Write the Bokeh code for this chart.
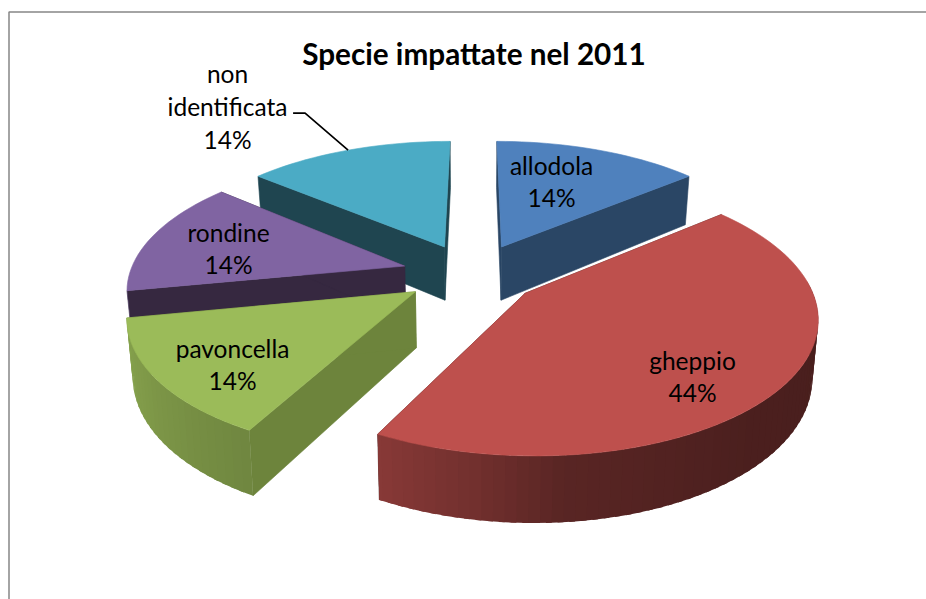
import math
from bokeh.plotting import figure
from bokeh.models import Range1d, ColumnDataSource
from bokeh.core.properties import value
from bokeh.embed import file_html
from bokeh.resources import INLINE

# ---- data ----
TITLE = "Specie impattate nel 2011"
species = ["allodola", "gheppio", "pavoncella", "rondine", "non\nidentificata"]
percent = [14, 44, 14, 14, 14]

# ---- style ----
top_colors = ["#4f81bd", "#be504d", "#9bbb59", "#8064a2", "#4babc5"]
face_colors = ["#2a4665", "#4a1e1c", "#6d843c", "#362840", "#1f4550"]
label_centres = [(551, 181), (692, 376), (232, 364), (228, 248), (227, 106)]
paint_order = [4, 0, 3, 2, 1]
apex_shift = [1, 0, -4, -6, -2]      # small sideways nudge of each slice's apex, px
end_trim = [0, -1.1, 0, 0, 0]        # small trim of each slice's closing edge, degrees

# ---- projection of the exploded 3D pie ----
CX, CY = 473.0, 273.0
RX, RY = 281.0, 130.0
PERSP = 0.158
EXPLODE = 0.233
DEPTH = 55.0
SHRINK = 0.983


def project(X, Y, bottom=False):
    d = 1 + PERSP * Y
    sx = RX * X / d
    sy = -RY * Y / d
    if bottom:
        return CX + sx * SHRINK, CY + sy + DEPTH / d
    return CX + sx, CY + sy


def shade(theta):
    pts = [(0, .38), (90, .38), (140, .40), (175, .47), (190, .60), (208, .72),
           (259, .88), (360, .88)]
    for (a0, f0), (a1, f1) in zip(pts, pts[1:]):
        if a0 <= theta <= a1:
            return f0 + (f1 - f0) * (theta - a0) / (a1 - a0)
    return .5


def scaled(col, f):
    r, g, b = (int(col[i:i + 2], 16) for i in (1, 3, 5))
    return "#%02x%02x%02x" % (int(r * f), int(g * f), int(b * f))


xs, ys, fills, strokes = [], [], [], []


def add(pts, col, stroke=0.6):
    xs.append([p[0] for p in pts])
    ys.append([p[1] for p in pts])
    fills.append(col)
    strokes.append(stroke)


total = sum(percent)
starts, a = [], 0.0
for v in percent:
    starts.append(a)
    a += 360.0 * v / total

for i in paint_order:
    a0 = starts[i]
    a1 = a0 + 360.0 * percent[i] / total
    mid = math.radians((a0 + a1) / 2)
    a1 += end_trim[i]
    ax, ay = EXPLODE * math.sin(mid), EXPLODE * math.cos(mid)
    top_apex = project(ax, ay)
    top_apex = (top_apex[0] + apex_shift[i], top_apex[1])
    low_apex = project(ax, ay, True)
    low_apex = (low_apex[0] + apex_shift[i], low_apex[1])

    def rim(theta):
        t = math.radians(theta)
        return ax + math.sin(t), ay + math.cos(t)

    # radial faces
    for edge in (a0, a1):
        ex, ey = rim(edge)
        add([top_apex, project(ex, ey), project(ex, ey, True), low_apex], face_colors[i])
    # outer wall, shaded strip by strip; strips overlap so no seams show
    lo, hi = max(a0, 85.0), min(a1, 260.0)
    t = lo
    while t < hi:
        t2 = min(t + 2.0, hi)
        t3 = min(t + 3.0, hi)
        p_, q_ = rim(t), rim(t3)
        add([project(*p_), project(*q_), project(*q_, True), project(*p_, True)],
            scaled(top_colors[i], shade((t + t2) / 2)), 0.0)
        t = t2
    # top surface
    n = max(2, int((a1 - a0) / 2))
    outline = [top_apex]
    outline += [project(*rim(a0 + (a1 - a0) * k / n)) for k in range(n + 1)]
    add(outline, top_colors[i])

p = figure(width=926, height=599, output_backend="svg", toolbar_location=None,
           x_range=Range1d(0, 926), y_range=Range1d(599, 0), min_border=0,
           background_fill_color="white", border_fill_color="white", outline_line_color=None)
p.axis.visible = False
p.grid.visible = False

# chart frame (its right and bottom edges are outside the picture)
p.line([8.5, 8.5, 930], [600, 11.5, 11.5], line_color="#868686", line_width=1.5)

p.patches(xs="xs", ys="ys", fill_color="fills", line_color="fills", line_width="strokes",
          source=ColumnDataSource(dict(xs=xs, ys=ys, fills=fills, strokes=strokes)))

# leader line of the last slice
i = 4
mid = math.radians(starts[i] + 180.0 * percent[i] / total)
ex, ey = project(EXPLODE * math.sin(mid) + math.sin(mid), EXPLODE * math.cos(mid) + math.cos(mid))
p.line([ex - 55, ex - 43, ex], [ey - 37, ey - 37, ey], line_color="black", line_width=1.7)

labels = [f"{s}\n{v}%" for s, v in zip(species, percent)]
p.text(x=[c[0] for c in label_centres], y=[c[1] for c in label_centres], text=labels,
       text_font=value("Lato"), text_font_size="24.5px", text_align="center",
       text_baseline="middle", text_color="black", text_line_height=1.125)
p.text(x=[473.5], y=[52.5], text=[TITLE], text_font=value("Lato"), text_font_size="29.7px",
       text_font_style="bold", text_align="center", text_baseline="middle", text_color="black")

open("out.html", "w").write(file_html(p, INLINE))
